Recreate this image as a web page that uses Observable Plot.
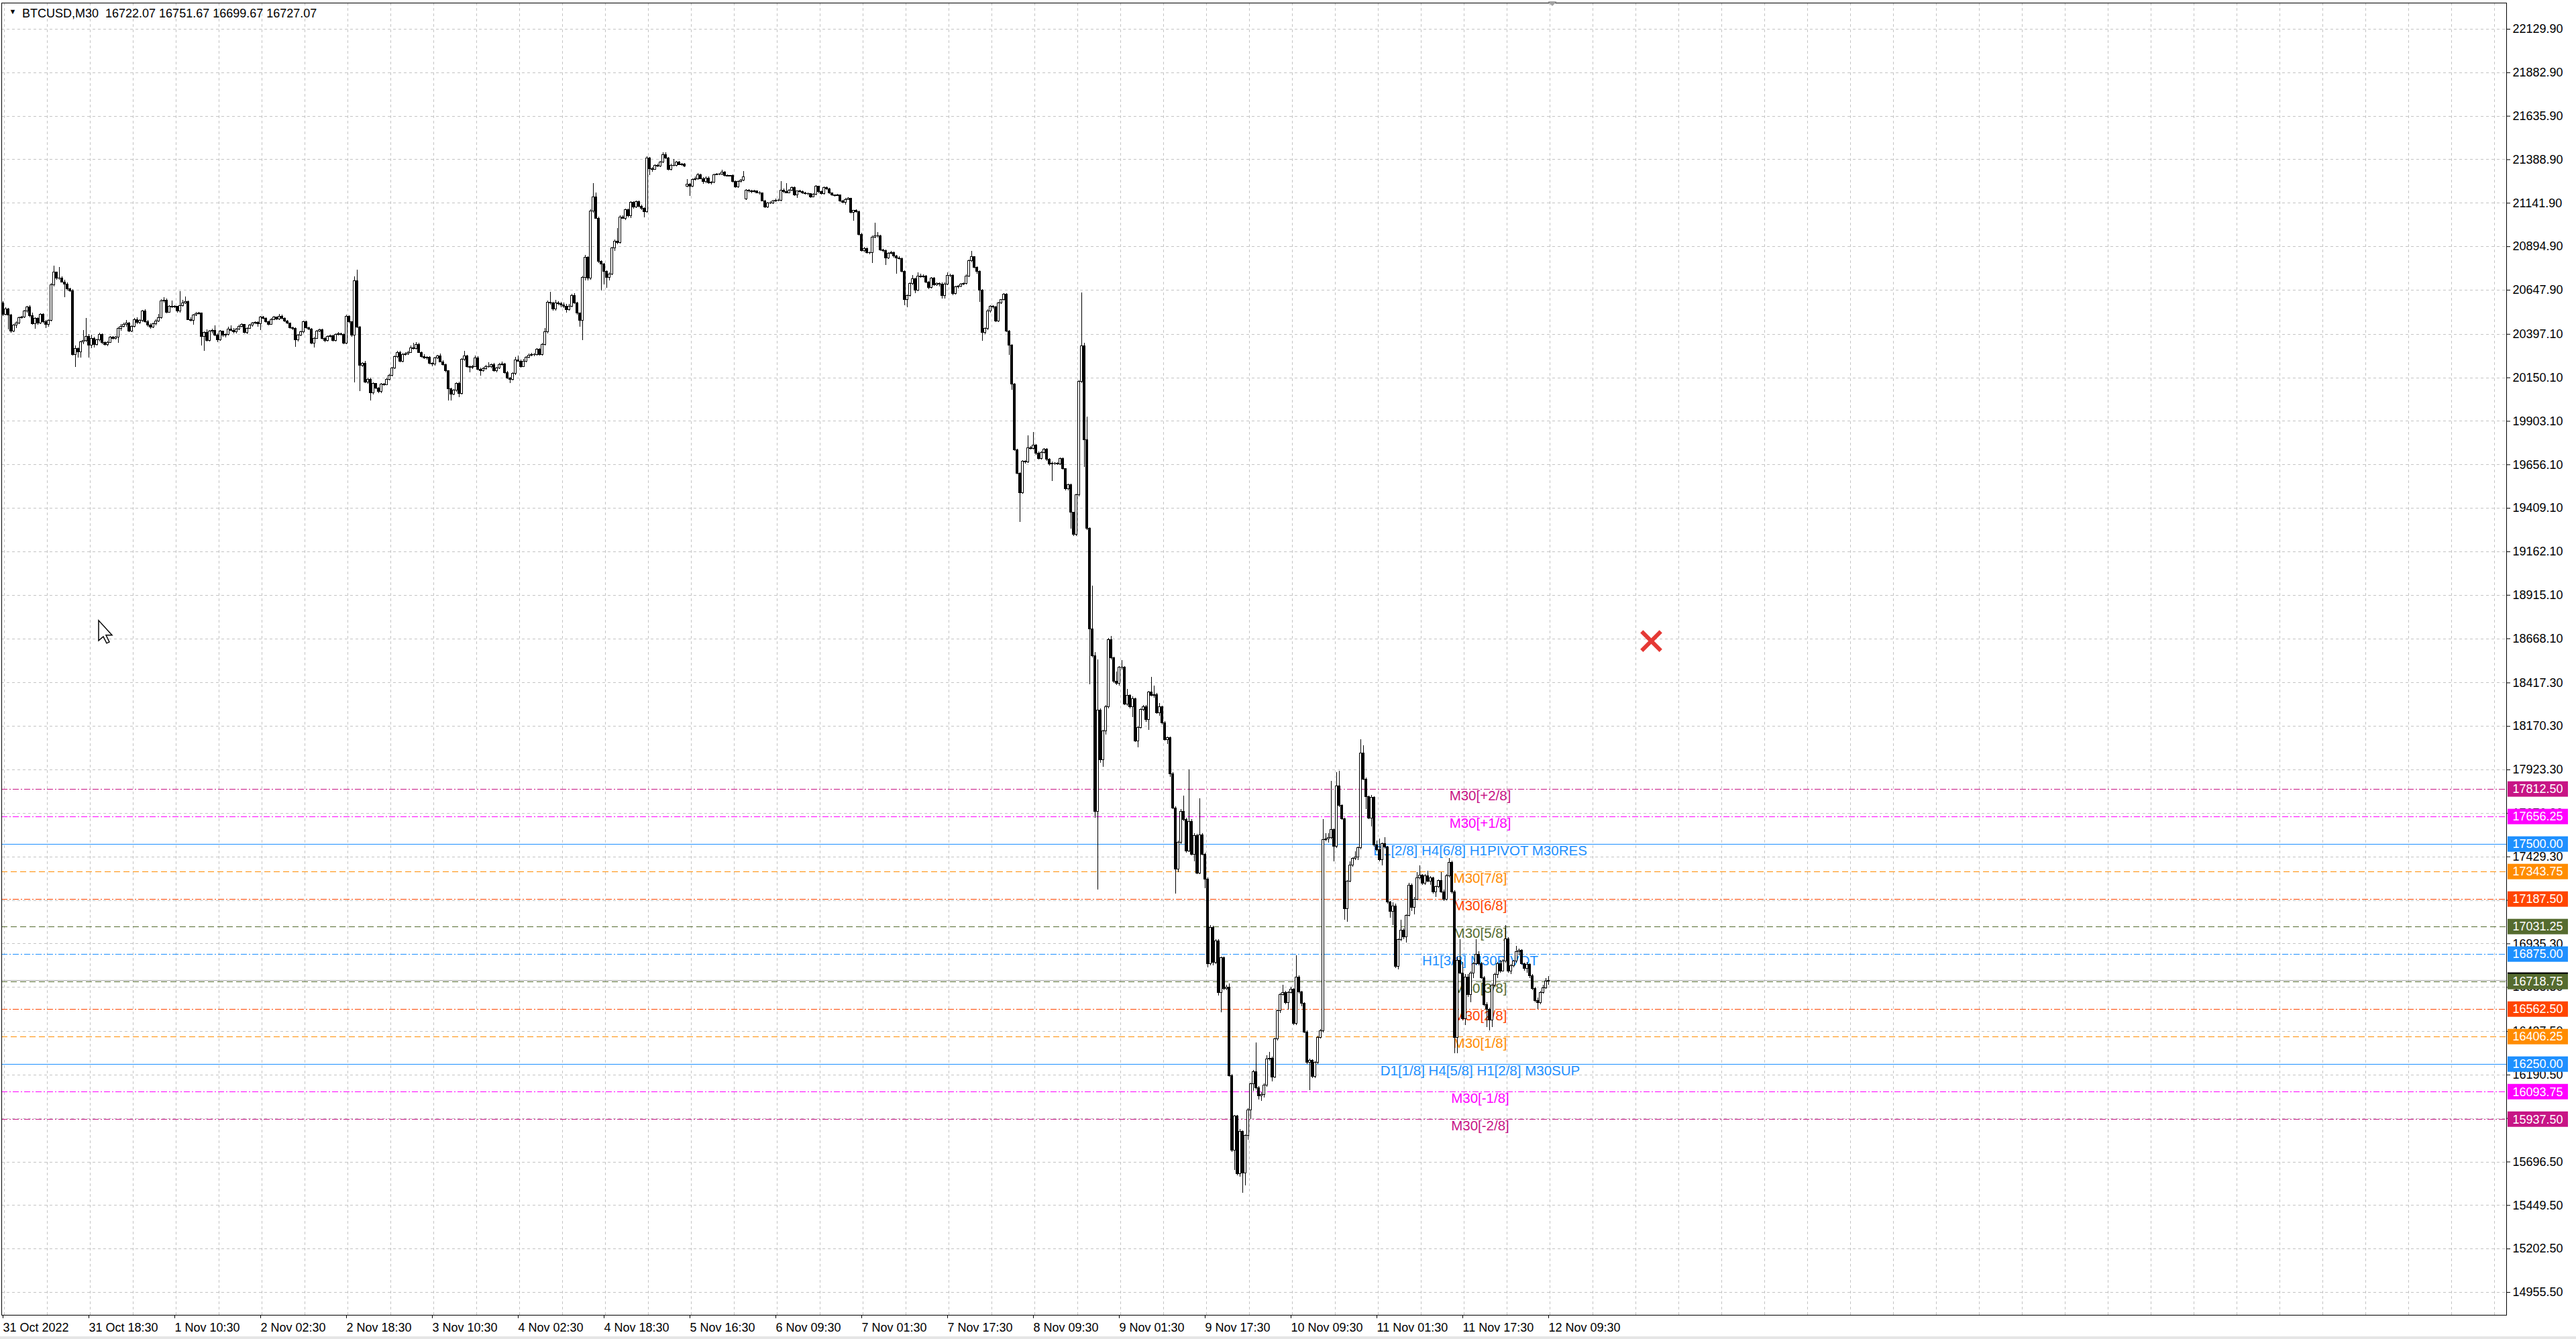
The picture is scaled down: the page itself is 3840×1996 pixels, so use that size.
<!DOCTYPE html>
<html><head><meta charset="utf-8">
<script src="https://cdn.jsdelivr.net/npm/d3@7"></script>
<script src="https://cdn.jsdelivr.net/npm/@observablehq/plot@0.6"></script>
<style>
html,body{margin:0;padding:0;background:#fff;}
#chart{width:3840px;height:1996px;position:relative;overflow:hidden;background:#fff;}
</style></head><body><div id="chart"></div>
<script>
// ---------- DATA (BTCUSD M30, bars as [open, high, low, close]) ----------
const symbolName = "BTCUSD,M30";
const oct31 = [
[20575,20583,20500,20509],[20509,20548,20503,20539],[20539,20545,20424,20506],[20506,20512,20404,20414],[20414,20452,20409,20446],
[20446,20468,20432,20461],[20461,20497,20452,20490],[20490,20501,20484,20493],[20493,20535,20488,20528],[20528,20558,20520,20551],
[20551,20560,20492,20500],[20500,20520,20450,20455],[20455,20490,20427,20484],[20484,20491,20450,20459],[20459,20513,20452,20509],
[20509,20514,20458,20465],[20465,20478,20429,20452],[20452,20482,20440,20475],[20475,20685,20470,20678],[20678,20785,20665,20747],
[20747,20752,20706,20713],[20713,20776,20706,20716],[20716,20725,20688,20693],[20693,20705,20605,20681],[20681,20690,20645,20652],
[20652,20660,20636,20643],[20643,20650,20275,20281],[20281,20330,20211,20315],[20315,20320,20262,20297],[20297,20360,20262,20353],
[20353,20420,20340,20361],[20361,20488,20350,20384],[20384,20395,20262,20332],[20332,20392,20318,20372],[20372,20380,20320,20338],
[20338,20370,20330,20363],[20363,20405,20355,20395],[20395,20402,20340,20350],[20350,20356,20330,20338],[20338,20358,20328,20350],
[20350,20386,20345,20379],[20379,20384,20364,20370],[20370,20386,20365,20380]
];
const nov01 = [
[20380,20440,20345,20427],[20427,20452,20415,20442],[20442,20462,20433,20452],[20452,20478,20440,20459],[20459,20466,20408,20414],
[20414,20446,20408,20440],[20440,20488,20434,20480],[20480,20490,20455,20462],[20462,20481,20455,20475],[20475,20535,20465,20528],
[20528,20537,20460,20465],[20465,20475,20438,20446],[20446,20456,20425,20437],[20437,20460,20430,20455],[20455,20480,20445,20471],
[20471,20510,20465,20490],[20490,20594,20485,20586],[20586,20605,20575,20589],[20589,20600,20515,20522],[20522,20562,20518,20556],
[20556,20585,20546,20551],[20551,20560,20544,20554],[20554,20558,20520,20528],[20528,20640,20518,20560],[20560,20590,20552,20575],
[20575,20610,20568,20582],[20582,20588,20475,20480],[20480,20490,20468,20476],[20476,20512,20450,20506],[20506,20523,20500,20513],
[20513,20522,20505,20516],[20516,20520,20332,20382],[20382,20412,20300,20406],[20406,20424,20355,20361],[20361,20420,20355,20412],
[20412,20425,20400,20417],[20417,20445,20384,20389],[20389,20400,20350,20363],[20363,20418,20358,20412],[20412,20416,20382,20389],
[20389,20400,20378,20395],[20395,20440,20388,20423],[20423,20445,20412,20417],[20417,20430,20402,20408],[20408,20430,20400,20424],
[20424,20448,20420,20442],[20442,20458,20434,20450],[20450,20455,20400,20405]
];
const nov02 = [
[20405,20436,20398,20430],[20430,20452,20425,20446],[20446,20465,20440,20459],[20459,20470,20452,20462],[20462,20468,20440,20455],
[20455,20500,20420,20493],[20493,20500,20480,20486],[20486,20490,20460,20467],[20467,20472,20445,20452],[20452,20486,20448,20480],
[20480,20500,20476,20493],[20493,20497,20478,20483],[20483,20510,20478,20499],[20499,20506,20480,20484],[20484,20490,20465,20471],
[20471,20476,20452,20459],[20459,20462,20428,20433],[20433,20440,20420,20429],[20429,20434,20323,20363],[20363,20398,20356,20391],
[20391,20415,20385,20408],[20408,20472,20402,20465],[20465,20474,20428,20433],[20433,20440,20418,20425],[20425,20430,20338,20344],
[20344,20380,20320,20373],[20373,20420,20368,20414],[20414,20428,20408,20420],[20420,20426,20365,20372],[20372,20380,20352,20361],
[20361,20390,20355,20382],[20382,20392,20376,20386],[20386,20392,20355,20361],[20361,20402,20355,20395],[20395,20408,20390,20399],
[20399,20405,20390,20396],[20396,20400,20338,20344],[20344,20505,20340,20497],[20497,20503,20458,20465],[20465,20470,20380,20389],
[20389,20725,20122,20700],[20700,20761,20430,20437],[20437,20442,20071,20221],[20221,20238,20210,20230],[20230,20243,20118,20125],
[20125,20150,20115,20140],[20140,20148,20020,20063],[20063,20122,20055,20116]
];
const nov03 = [
[20116,20120,20085,20090],[20090,20096,20060,20069],[20069,20118,20060,20112],[20112,20119,20104,20110],[20110,20148,20105,20141],
[20141,20170,20135,20163],[20163,20210,20158,20204],[20204,20275,20198,20268],[20268,20300,20260,20293],[20293,20300,20238,20243],
[20243,20288,20236,20281],[20281,20292,20275,20285],[20285,20300,20278,20293],[20293,20330,20288,20319],[20319,20345,20310,20315],
[20315,20352,20310,20338],[20338,20346,20288,20293],[20293,20298,20262,20268],[20268,20282,20255,20262],[20262,20270,20250,20265],
[20265,20270,20225,20230],[20230,20236,20215,20226],[20226,20266,20218,20262],[20262,20280,20255,20274],[20274,20285,20235,20239],
[20239,20248,20218,20224],[20224,20230,20180,20188],[20188,20192,20020,20084],[20084,20090,20020,20056],[20056,20082,20050,20077],
[20077,20122,20070,20116],[20116,20125,20040,20061],[20061,20258,20055,20252],[20252,20300,20245,20274],[20274,20280,20205,20211],
[20211,20216,20180,20208],[20208,20220,20200,20213],[20213,20275,20208,20262],[20262,20270,20192,20198],[20198,20205,20160,20188],
[20188,20210,20182,20201],[20201,20220,20195,20213],[20213,20235,20205,20211],[20211,20230,20202,20224],[20224,20232,20182,20188],
[20188,20210,20180,20204],[20204,20232,20198,20224],[20224,20240,20218,20228]
];
const nov04 = [
[20228,20234,20172,20179],[20179,20185,20142,20147],[20147,20152,20120,20141],[20141,20180,20135,20173],[20173,20268,20165,20249],
[20249,20275,20240,20243],[20243,20250,20205,20213],[20213,20255,20208,20243],[20243,20270,20238,20264],[20264,20285,20258,20277],
[20277,20290,20270,20279],[20279,20290,20272,20281],[20281,20315,20276,20310],[20310,20318,20275,20281],[20281,20345,20276,20338],
[20338,20430,20330,20408],[20408,20585,20400,20577],[20577,20636,20565,20573],[20573,20580,20528,20538],[20538,20590,20530,20573],
[20573,20582,20560,20570],[20570,20578,20550,20562],[20562,20575,20545,20556],[20556,20566,20520,20535],[20535,20568,20528,20554],
[20554,20625,20548,20617],[20617,20630,20566,20573],[20573,20580,20505,20516],[20516,20520,20440,20475],[20475,20728,20363,20719],
[20719,20845,20700,20833],[20833,20840,20700,20713],[20713,21105,20705,21094],[21094,21252,21085,21176],[21176,21200,21050,21055],
[21055,21062,20800,20808],[20808,20815,20645,20795],[20795,20800,20680,20751],[20751,20760,20660,20719],[20719,20745,20700,20738],
[20738,20890,20730,20884],[20884,20932,20870,20925],[20925,21000,20905,20916],[20916,21070,20910,21062],[21062,21070,21050,21055],
[21055,21110,21045,21102],[21102,21108,21060,21068],[21068,21150,21055,21144]
];
const nov05 = [
[21144,21150,21110,21119],[21119,21155,21112,21148],[21148,21155,21118,21123],[21123,21130,21100,21110],[21110,21115,21060,21090],
[21090,21405,21085,21398],[21398,21404,21300,21335],[21335,21345,21320,21333],[21333,21362,21328,21354],[21354,21365,21345,21352],
[21352,21380,21345,21373],[21373,21430,21368,21415],[21415,21430,21392,21398],[21398,21404,21325,21331],[21331,21365,21326,21356],
[21356,21390,21348,21354],[21354,21380,21348,21373],[21373,21378,21355,21360],[21360,21368,21352,21362],[21362,21366,21344,21351],
[21237,21275,21230,21246],[21246,21252,21182,21237],[21237,21282,21230,21275],[21275,21290,21268,21278],[21278,21310,21272,21300],
[21300,21306,21275,21280],[21280,21286,21250,21262],[21262,21290,21255,21284],[21284,21290,21250,21255],[21255,21265,21245,21259],
[21259,21308,21254,21303],[21303,21310,21298,21305],[21305,21312,21300,21306],[21306,21330,21300,21318],[21318,21322,21292,21297],
[21297,21302,21290,21295]
];
const nov06 = [
[21295,21300,21290,21297],[21297,21302,21258,21262],[21262,21268,21228,21233],[21233,21268,21226,21264],[21264,21275,21258,21270],
[21270,21322,21264,21291],[21163,21220,21158,21213],[21213,21218,21200,21208],[21208,21214,21198,21205],[21205,21214,21200,21208],
[21208,21212,21195,21200],[21200,21206,21190,21197],[21197,21200,21150,21154],[21154,21160,21112,21120],[21120,21145,21114,21140],
[21140,21150,21134,21142],[21142,21158,21136,21151],[21151,21165,21145,21158],[21158,21165,21150,21156],[21156,21264,21150,21213],
[21213,21225,21198,21205],[21205,21255,21195,21200],[21200,21218,21196,21213],[21213,21235,21208,21228],[21228,21233,21180,21186],
[21186,21212,21170,21208],[21208,21214,21200,21206],[21206,21210,21194,21200],[21200,21205,21188,21193],[21193,21200,21185,21195],
[21195,21198,21170,21177],[21177,21195,21172,21190],[21190,21242,21185,21236],[21236,21240,21198,21205],[21205,21210,21188,21193],
[21193,21233,21188,21228],[21228,21234,21215,21221],[21221,21226,21192,21197],[21197,21202,21180,21186],[21186,21190,21178,21184],
[21184,21194,21180,21186],[21186,21190,21148,21154],[21154,21160,21140,21146],[21146,21168,21130,21162],[21162,21172,21157,21166],
[21166,21170,21082,21088]
];
const nov07 = [
[21088,21103,21040,21099],[21099,21104,21085,21093],[21093,21098,20958,20964],[20964,20970,20865,20871],[20871,20890,20860,20882],
[20882,20888,20852,20860],[20860,20866,20850,20858],[20858,20955,20800,20948],[20948,21030,20940,20956],[20956,20975,20945,20953],
[20953,20960,20870,20875],[20875,20880,20860,20871],[20871,20876,20790,20829],[20829,20862,20822,20855],[20855,20870,20848,20860],
[20860,20866,20830,20840],[20840,20846,20740,20830],[20830,20838,20818,20826],[20826,20830,20748,20754],[20754,20760,20560,20591],
[20591,20620,20550,20614],[20614,20690,20608,20684],[20684,20730,20676,20711],[20711,20718,20628,20645],[20645,20745,20640,20726],
[20726,20740,20716,20723],[20723,20735,20715,20726],[20726,20732,20685,20692],[20692,20698,20650,20661],[20661,20722,20655,20715],
[20715,20722,20670,20676],[20676,20690,20670,20684],[20684,20690,20665,20680],[20680,20690,20600,20614],[20614,20688,20600,20680],
[20680,20745,20674,20729],[20729,20740,20722,20731],[20731,20736,20618,20627],[20627,20670,20620,20664],[20664,20674,20656,20669],
[20669,20685,20662,20680],[20680,20690,20675,20684],[20684,20735,20678,20726],[20726,20818,20720,20813],[20813,20870,20805,20835],
[20835,20840,20770,20777],[20777,20782,20740,20754],[20754,20760,20580,20645]
];
const nov08 = [
[20645,20650,20360,20404],[20404,20435,20398,20428],[20428,20536,20420,20529],[20529,20560,20520,20555],[20555,20562,20540,20550],
[20550,20556,20465,20471],[20471,20580,20466,20575],[20575,20596,20568,20591],[20591,20630,20585,20622],[20622,20628,20408,20415],
[20415,20420,20280,20334],[20334,20340,20080,20114],[20114,20120,19735,19740],[19740,19745,19600,19607],[19607,19612,19331,19495],
[19495,19680,19488,19673],[19673,19680,19660,19670],[19670,19820,19665,19751],[19751,19760,19740,19747],[19747,19840,19740,19767],
[19767,19772,19712,19720],[19720,19728,19682,19689],[19689,19732,19684,19725],[19725,19750,19718,19743],[19743,19750,19678,19684],
[19684,19690,19650,19658],[19658,19672,19560,19664],[19664,19670,19655,19661],[19661,19668,19654,19660],[19660,19695,19655,19689],
[19689,19694,19625,19631],[19631,19636,19510,19518],[19518,19548,19510,19541],[19541,19546,19290,19383],[19383,19388,19250,19258],
[19258,19490,19250,19482],[19482,20135,19475,20129],[20129,20633,20120,20331],[20331,20345,19640,19798],[19798,19928,19285,19292],
[19292,19300,18406,18720],[18720,18967,18560,18571],[18571,18590,17650,17684],[17684,18550,17240,18261],[18261,18270,17960,17980],
[17980,18150,17940,18142],[18142,18290,18120,18281],[18281,18670,18270,18661]
];
const nov09 = [
[18661,18680,18550,18559],[18559,18565,18415,18423],[18423,18480,18405,18414],[18414,18510,18400,18504],[18504,18545,18490,18503],
[18503,18510,18288,18295],[18295,18380,18285,18343],[18343,18350,18270,18281],[18281,18340,18220,18326],[18326,18332,18080,18087],
[18087,18170,18050,18162],[18162,18272,18155,18264],[18264,18290,18255,18281],[18281,18288,18195,18206],[18206,18370,18150,18363],
[18363,18450,18340,18346],[18346,18400,18330,18349],[18349,18356,18238,18244],[18244,18300,18230,18278],[18278,18285,18180,18190],
[18190,18198,18088,18094],[18094,18110,18070,18105],[18105,18110,17880,17900],[17900,17910,17700,17706],[17706,17715,17220,17356],
[17356,17520,17340,17509],[17509,17700,17500,17684],[17684,17775,17630,17640],[17640,17650,17450,17460],[17460,17924,17455,17629],
[17629,17640,17436,17443],[17443,17560,17400,17550],[17550,17556,17330,17334],[17334,17760,17328,17552],[17552,17560,17436,17443],
[17443,17450,17250,17300],[17300,17310,16800,16820],[16820,17040,16810,17027],[17027,17035,16810,16830],[16830,16960,16820,16950],
[16950,16958,16640,16656],[16656,16860,16546,16853],[16853,16860,16670,16678],[16678,16700,16670,16688],[16688,16710,16180,16186],
[16186,16195,15750,15760],[15760,15960,15650,15955],[15955,15962,15620,15628]
];
const nov10 = [
[15628,15880,15610,15868],[15868,15875,15518,15630],[15630,15850,15560,15846],[15846,16000,15820,15990],[15990,16145,15940,16138],
[16138,16215,16100,16206],[16206,16372,16105,16115],[16115,16125,16050,16070],[16070,16090,16040,16078],[16078,16140,16060,16131],
[16131,16300,16120,16278],[16278,16320,16270,16284],[16284,16292,16150,16176],[16176,16400,16170,16394],[16394,16560,16385,16552],
[16552,16655,16540,16645],[16645,16700,16640,16658],[16658,16665,16590,16598],[16598,16665,16560,16658],[16658,16690,16650,16676],
[16676,16682,16470,16480],[16480,16870,16472,16745],[16745,16752,16650,16660],[16660,16668,16580,16594],[16594,16600,16425,16432],
[16432,16440,16250,16259],[16259,16280,16101,16270],[16270,16278,16170,16179],[16179,16265,16172,16259],[16259,16410,16250,16402],
[16402,16450,16395,16440],[16440,17640,16430,17524],[17524,17560,17515,17528],[17528,17560,17510,17535],[17535,17860,17528,17584],
[17584,17590,17400,17486],[17486,17910,17478,17832],[17832,17915,17710,17719],[17719,17726,17636,17644],[17644,17650,17070,17132],
[17132,17296,17060,17290],[17290,17400,17282,17380],[17380,17425,17372,17418],[17418,17460,17410,17425],[17425,17486,17410,17478],
[17478,18096,17470,18016],[18016,18060,17862,17870],[17870,17876,17700,17769]
];
const nov11 = [
[17769,17775,17640,17649],[17649,17780,17600,17765],[17765,17770,17485,17493],[17493,17520,17460,17470],[17470,17530,17400,17411],
[17411,17510,17380,17501],[17501,17540,17475,17483],[17483,17490,17160,17170],[17170,17178,17080,17117],[17117,17170,17040,17150],
[17150,17160,16796,16805],[16805,16965,16790,16959],[16959,17070,16950,17012],[17012,17020,16960,16974],[16974,17100,16940,17094],
[17094,17280,17088,17268],[17268,17275,17120,17140],[17140,17200,17100,17185],[17185,17340,17180,17308],[17308,17380,17300,17323],
[17323,17330,17268,17278],[17278,17330,17270,17320],[17320,17350,17282,17290],[17290,17316,17270,17308],[17308,17314,17220,17230],
[17230,17265,17200,17257],[17257,17300,17250,17293],[17293,17340,17222,17230],[17230,17240,17175,17188],[17188,17330,17180,17320],
[17320,17420,17312,17396],[17396,17404,17220,17230],[17230,17238,16311,16402],[16402,16860,16310,16840],[16840,16960,16760,16766],
[16766,16830,16500,16508],[16508,16760,16470,16746],[16746,16760,16630,16644],[16644,16775,16600,16766],[16766,16830,16740,16821],
[16821,16960,16815,16875],[16875,16890,16810,16820],[16820,16830,16735,16740],[16740,16750,16580,16589],[16589,16600,16462,16560],
[16560,16570,16440,16500],[16500,16710,16460,16700],[16700,16770,16690,16760]
];
const nov12 = [
[16760,16830,16740,16821],[16821,16840,16770,16780],[16780,16845,16775,16834],[16834,17038,16828,16960],[16960,16970,16770,16780],
[16780,16820,16760,16810],[16810,16840,16800,16834],[16834,16920,16826,16889],[16889,16905,16870,16896],[16896,16902,16815,16821],
[16821,16828,16780,16793],[16793,16830,16770,16815],[16815,16822,16740,16753],[16753,16760,16670,16678],[16678,16690,16600,16610],
[16610,16628,16562,16600],[16600,16665,16590,16657],[16657,16700,16650,16685],[16685,16740,16678,16722],[16722.07,16751.67,16699.67,16727.07]
];

// time-axis labels (one every 32 bars) and price-axis labels
const timeLabels = ["31 Oct 2022","31 Oct 18:30","1 Nov 10:30","2 Nov 02:30","2 Nov 18:30","3 Nov 10:30","4 Nov 02:30",
  "4 Nov 18:30","5 Nov 16:30","6 Nov 09:30","7 Nov 01:30","7 Nov 17:30","8 Nov 09:30","9 Nov 01:30","9 Nov 17:30",
  "10 Nov 09:30","11 Nov 01:30","11 Nov 17:30","12 Nov 09:30"];
const priceLabels = [22129.90,21882.90,21635.90,21388.90,21141.90,20894.90,20647.90,20397.10,20150.10,19903.10,19656.10,
  19409.10,19162.10,18915.10,18668.10,18417.30,18170.30,17923.30,17676.30,17429.30,17182.30,16935.30,16688.30,16437.50,
  16190.50,15943.50,15696.50,15449.50,15202.50,14955.50];

// Murrey-math levels
const levelValues = [17812.50,17656.25,17500.00,17343.75,17187.50,17031.25,16875.00,16718.75,16562.50,16406.25,16250.00,16093.75,15937.50];
const levelNames = ["M30[+2/8]","M30[+1/8]","D1[2/8] H4[6/8] H1PIVOT M30RES","M30[7/8]","M30[6/8]","M30[5/8]",
  "H1[3/8] M30PIVOT","M30[3/8]","M30[2/8]","M30[1/8]","D1[1/8] H4[5/8] H1[2/8] M30SUP","M30[-1/8]","M30[-2/8]"];
const crossMark = [{bar: 614.25, price: 18655}];
const cursorAt = {bar: 35.75, price: 18770};

// ---------- STYLE ----------
const FONT = "'Liberation Sans', Arial, sans-serif";
const DASH = "9,5", DASHDOT = "9,3,2,3";
function levelStyle(name) {
  if (/RES|SUP/.test(name)) return {color: "#1E90FF", dash: null};
  if (/PIVOT/.test(name)) return {color: "#1E90FF", dash: DASHDOT};
  if (/\[[+-]2\/8\]/.test(name)) return {color: "#C71585", dash: DASHDOT};
  if (/\[[+-]1\/8\]/.test(name)) return {color: "#FF00FF", dash: DASHDOT};
  if (/\[(7|1)\/8\]/.test(name)) return {color: "#FF8C00", dash: DASH};
  if (/\[(6|2)\/8\]/.test(name)) return {color: "#FF4500", dash: DASHDOT};
  return {color: "#556B2F", dash: DASH};
}

// ---------- BUILD ----------
const bars = [oct31, nov01, nov02, nov03, nov04, nov05, nov06, nov07, nov08, nov09, nov10, nov11, nov12]
  .flat().map(([open, high, low, close], i) => ({i, open, high, low, close}));
const last = bars[bars.length - 1];
const levels = levelValues.map((value, k) => ({value, name: levelNames[k], ...levelStyle(levelNames[k])}));

const W = 3840, H = 1996, mL = 2, mR = 104, mT = 4, mB = 36;
const xDomain = [-0.5, 933];
const yDomain = [14825.9, 22278.5];
const pxPerPrice = (H - mT - mB) / (yDomain[1] - yDomain[0]);
const tagHalf = 11.5 / pxPerPrice;
const tagX1 = 933.5, tagX2 = 956, tagTextX = 935.25, labelBar = 550.5;

const gridBars = d3.range(0.4, 933, 16);
const timeTicks = timeLabels.map((_, k) => k * 32);

// price tags: the current-price tag first, each level tag (box + text) painted over the previous ones
const tags = [{value: last.close, color: "#000000"}, ...levels];
const tagMarks = tags.flatMap(t => [
  Plot.rect([t], {x1: () => tagX1, x2: () => tagX2, y1: d => d.value - tagHalf, y2: d => d.value + tagHalf, fill: "color"}),
  Plot.text([t], {x: () => tagTextX, y: "value", text: d => d.value.toFixed(2), fill: "white", textAnchor: "start",
    fontSize: 18, fontFamily: FONT})
]);

const marks = [
  Plot.ruleX(gridBars, {stroke: "#c4c4c4", strokeDasharray: "4,4", shapeRendering: "crispEdges"}),
  Plot.ruleY(priceLabels, {stroke: "#c4c4c4", strokeDasharray: "4,4", shapeRendering: "crispEdges"}),
  ...levels.map(l => Plot.ruleY([l], {y: "value", stroke: l.color, strokeWidth: 1, strokeDasharray: l.dash, shapeRendering: "crispEdges"})),
  Plot.ruleY([last.close], {stroke: "#a8a8a8", shapeRendering: "crispEdges"}),
  Plot.text(levels, {x: () => labelBar, y: "value", text: "name", fill: "color", lineAnchor: "top", dy: 2,
    fontSize: 20.5, fontFamily: FONT, textAnchor: "middle"}),
  Plot.ruleX(bars, {x: "i", y1: "low", y2: "high", stroke: "black", strokeWidth: 1, shapeRendering: "crispEdges"}),
  Plot.rect(bars, {x1: d => d.i - 0.3, x2: d => d.i + 0.3, y1: "open", y2: "close",
    fill: d => d.close >= d.open ? "white" : "black", stroke: "black", strokeWidth: 1, shapeRendering: "crispEdges"}),
  Plot.frame({stroke: "black", shapeRendering: "crispEdges"}),
  Plot.axisY(priceLabels, {anchor: "right", tickSize: 5, tickPadding: 4, tickFormat: d => d.toFixed(2),
    fontSize: 18, fontFamily: FONT, label: null, fill: "black", stroke: "black"}),
  Plot.axisX(timeTicks, {anchor: "bottom", tickSize: 5, tickPadding: 7, textAnchor: "start",
    tickFormat: d => timeLabels[d / 32], fontSize: 18, fontFamily: FONT, label: null, fill: "black", stroke: "black"}),
  ...tagMarks,
  Plot.dot(crossMark, {x: "bar", y: "price", symbol: "times", r: 13, stroke: "#e53935", strokeWidth: 6}),
  Plot.text(["\u25BC"], {frameAnchor: "top-left", dx: 11, dy: 9, fontSize: 11, lineAnchor: "top", fill: "black", fontFamily: FONT}),
  Plot.text([`${symbolName}\u00a0\u00a0${last.open.toFixed(2)} ${last.high.toFixed(2)} ${last.low.toFixed(2)} ${last.close.toFixed(2)}`],
    {frameAnchor: "top-left", dx: 30.5, dy: 9, fontSize: 18, lineAnchor: "top", textAnchor: "start", fill: "black", fontFamily: FONT})
];

const plot = Plot.plot({
  width: W, height: H,
  marginLeft: mL, marginRight: mR, marginTop: mT, marginBottom: mB,
  x: {type: "linear", domain: xDomain, axis: null},
  y: {type: "linear", domain: yDomain, axis: null},
  style: {background: "white", fontFamily: FONT, fontSize: "18px", overflow: "visible"},
  marks
});
document.getElementById("chart").append(plot);

// screenshot decorations: chart-shift marker and mouse pointer, positioned through the plot's scales
const svg = d3.select(plot.tagName.toLowerCase() === "svg" ? plot : plot.querySelector("svg"));
const sx = plot.scale("x"), sy = plot.scale("y");
const shiftX = sx.apply(last.i + 1.5);
svg.append("path").attr("d", `M${shiftX - 7},${mT - 2} L${shiftX + 7},${mT - 2} L${shiftX},${mT + 5} Z`).attr("fill", "#a0a0a0");
const cx = sx.apply(cursorAt.bar), cy = sy.apply(cursorAt.price);
svg.append("path").attr("transform", `translate(${cx},${cy})`)
  .attr("d", "M0,0 L0,30 L7,24 L12,34 L16,32 L11,22 L20,22 Z")
  .attr("fill", "white").attr("stroke", "black").attr("stroke-width", 1.5).attr("stroke-linejoin", "miter");
// window edge
svg.append("rect").attr("x", 0).attr("y", H - 4).attr("width", W).attr("height", 4).attr("fill", "#e6e6e6");
</script>
</body></html>
